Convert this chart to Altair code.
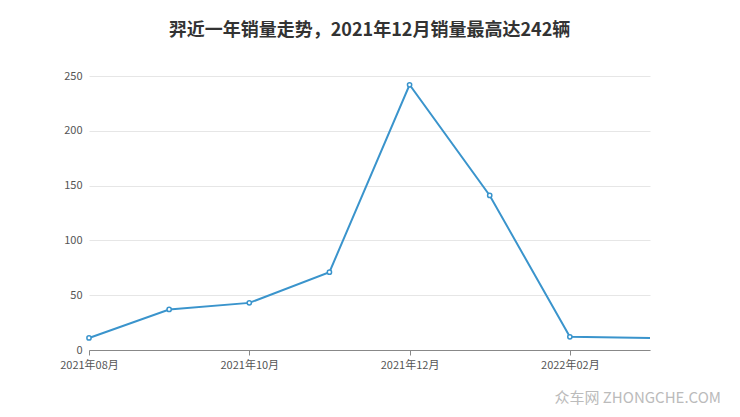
import altair as alt
import pandas as pd

months = ["2021年08月", "2021年09月", "2021年10月", "2021年11月", "2021年12月",
          "2022年01月", "2022年02月", "2022年03月"]
sales = [11, 37, 43, 71, 242, 141, 12, 11]
idx = list(range(len(months)))

df = pd.DataFrame({"i": idx, "month": months, "sales": sales})

label_js = "[" + ",".join('"%s"' % m for m in months) + "]"
FONT = "Noto Sans CJK SC"
COLOR = "#3a94cc"

x = alt.X("i:Q", scale=alt.Scale(domain=[0, 7], nice=False, zero=False),
          axis=alt.Axis(values=[0, 2, 4, 6], labelExpr=label_js + "[datum.value]",
                        title=None, grid=False, domainColor="#888", tickColor="#888",
                        tickSize=5, labelColor="#555", labelFontSize=11, labelFont=FONT,
                        labelPadding=4, labelFlush=False))
y = alt.Y("sales:Q", scale=alt.Scale(domain=[0, 250], nice=False),
          axis=alt.Axis(values=[0, 50, 100, 150, 200, 250], title=None, domain=False,
                        ticks=False, gridColor="#e6e6e6", labelColor="#555",
                        labelFontSize=11, labelFont=FONT, labelPadding=7))

base = alt.Chart(df)
line = base.mark_line(color=COLOR, strokeWidth=2).encode(x=x, y=y)
pts = base.transform_filter("datum.i < 7").mark_point(
    color=COLOR, fill="white", filled=False, size=18, strokeWidth=1.5, opacity=1
).encode(x=x, y=y)

wm = alt.Chart(pd.DataFrame({"t": ["众车网 ZHONGCHE.COM"]})).mark_text(
    font=FONT, fontSize=15, color="#bbbbbb", align="right", baseline="middle"
).encode(text="t:N", x=alt.value(632), y=alt.value(322))

chart = alt.layer(line, pts, wm).properties(
    width=561, height=274,
    autosize=alt.AutoSizeParams(type="none"),
    padding={"left": 81, "top": 68, "right": 70, "bottom": 59},
    title=alt.TitleParams("羿近一年销量走势，2021年12月销量最高达242辆", font=FONT,
                          fontSize=18, fontWeight="bold", color="#333",
                          anchor="middle", offset=30),
).configure_view(stroke=None)

chart.save("out.html", embed_options={"renderer": "svg", "actions": False})
